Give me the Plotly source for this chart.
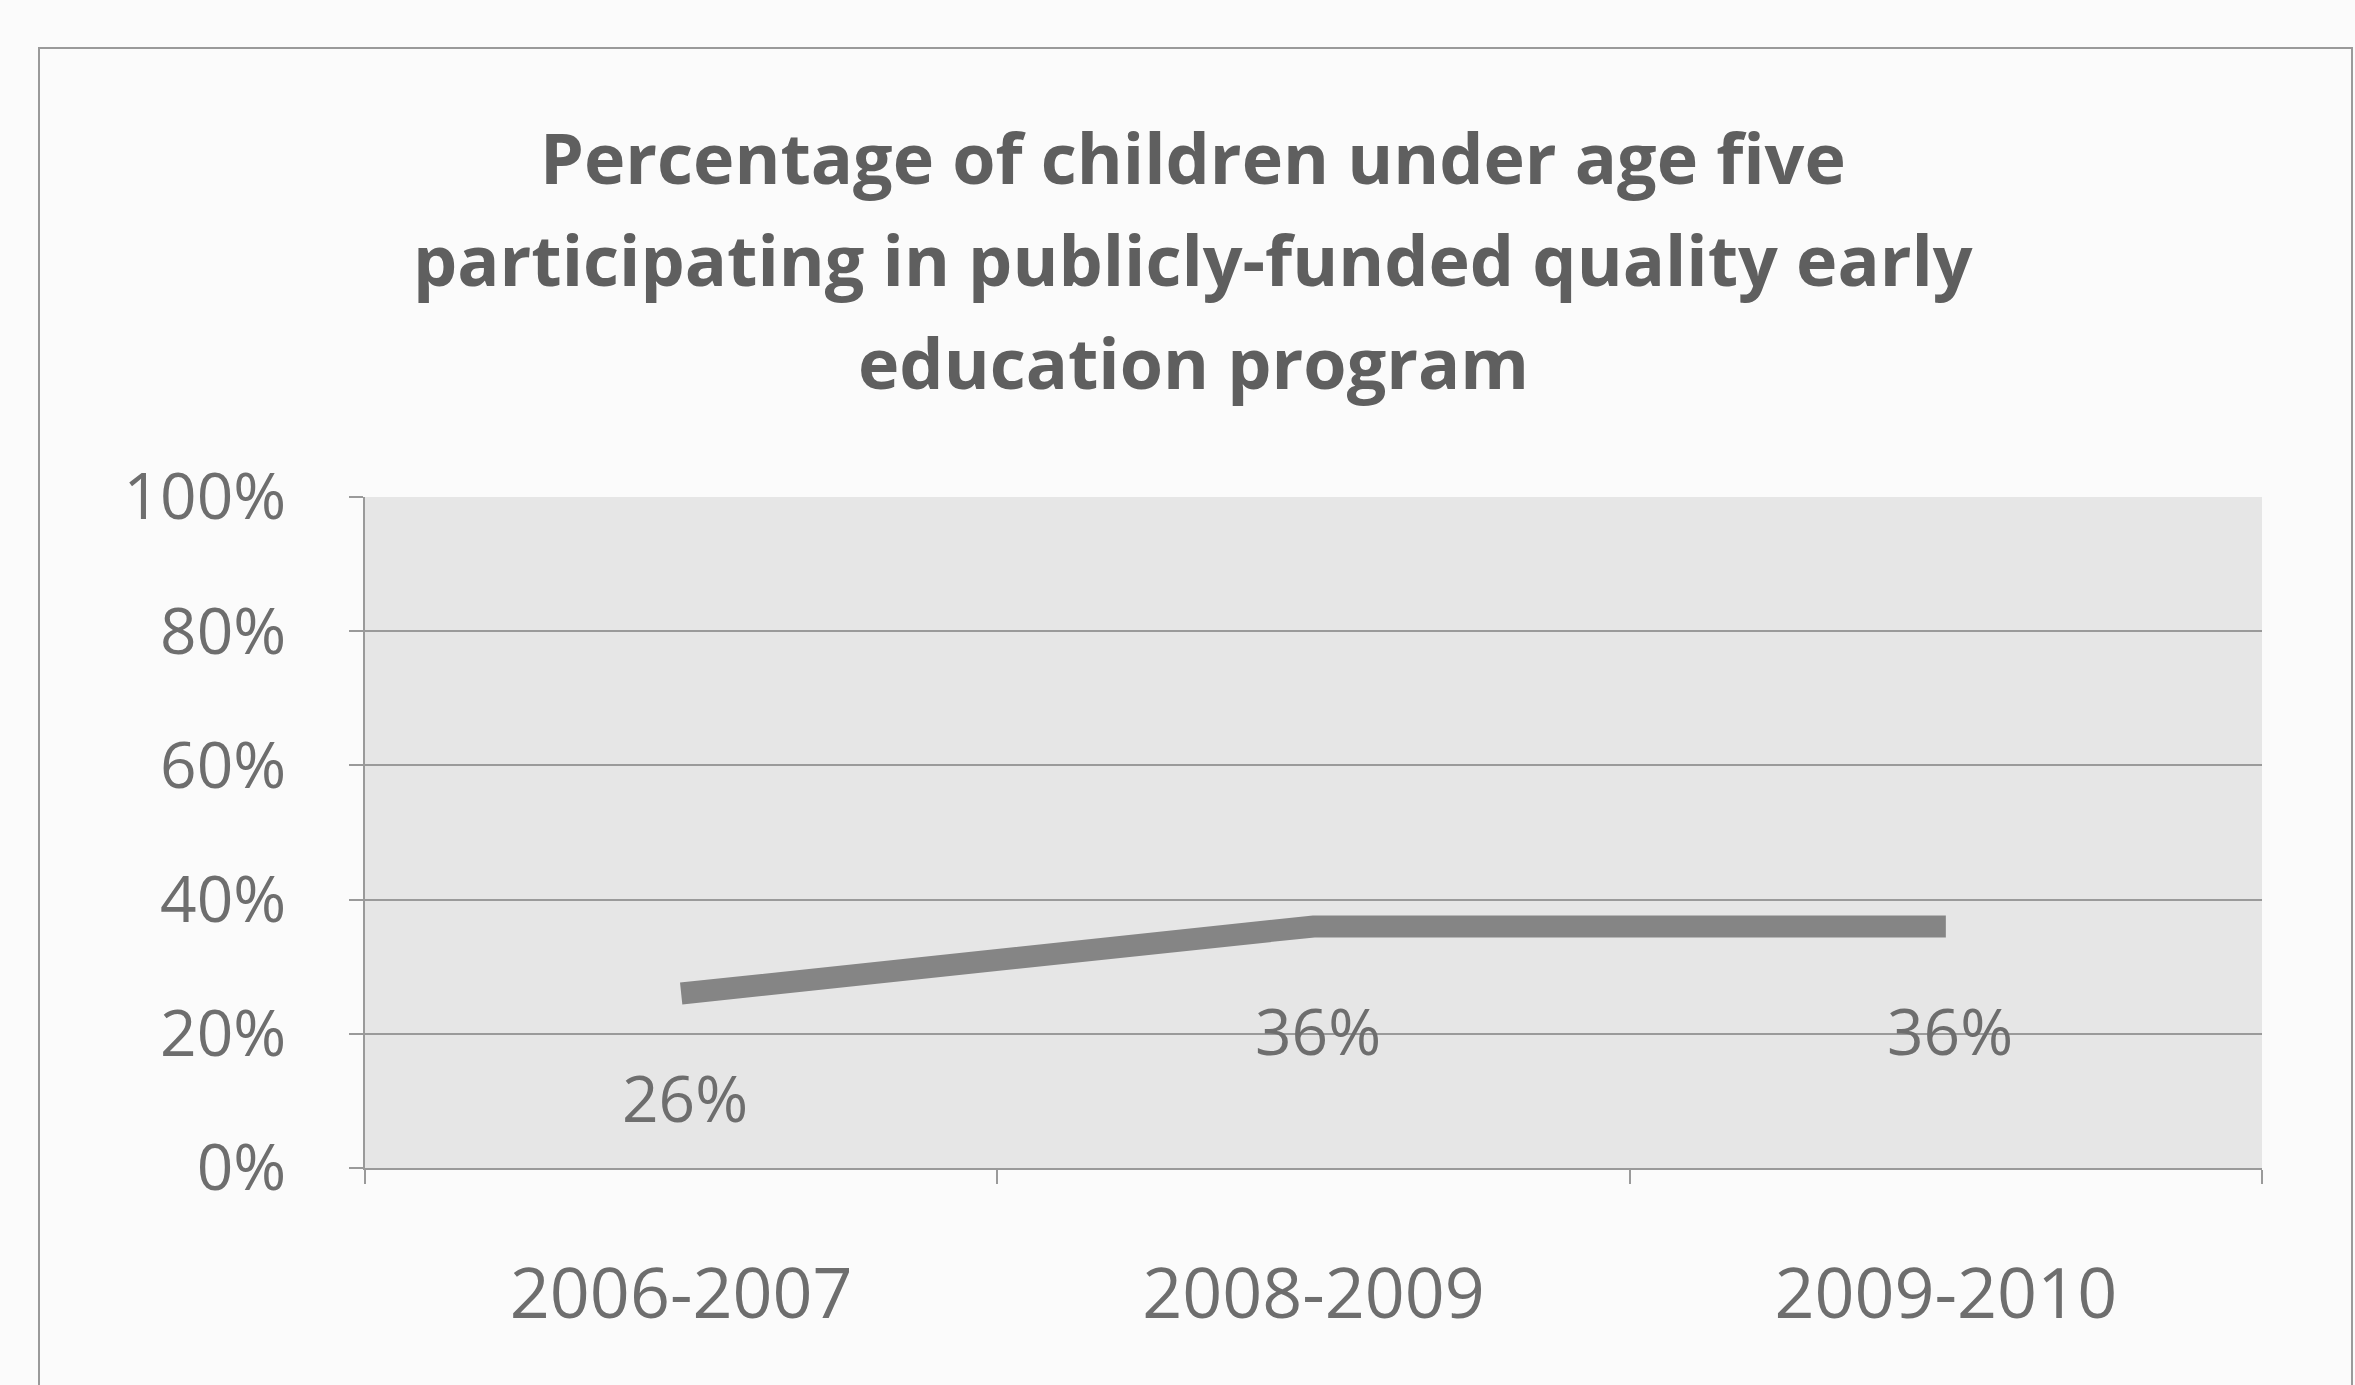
import plotly.graph_objects as go

# Chart data
years = ["2006-2007", "2008-2009", "2009-2010"]
pct_enrolled = [26, 36, 36]
y_ticks = [0, 20, 40, 60, 80, 100]
y_tick_labels = [f"{v}%" for v in y_ticks]

title_lines = [
    "Percentage of children under age five",
    "participating in publicly-funded quality early",
    "education program",
]

FONT = "Open Sans"
TEXT_GREY = "#6e6e6e"
W, H = 2355, 1385

fig = go.Figure()

fig.add_trace(go.Scatter(
    x=years,
    y=pct_enrolled,
    mode="lines",
    line=dict(color="#858585", width=22),
    hoverinfo="skip",
    showlegend=False,
))

# Data labels sit below each point
for yr, v in zip(years, pct_enrolled):
    fig.add_annotation(
        x=yr, y=v, text=f"{v}%", showarrow=False,
        yshift=-104, xshift=4,
        font=dict(family=FONT, size=64, color=TEXT_GREY),
    )

# Title, one line per annotation for wider line spacing
title_centres = [157, 259, 362]
for line, cy in zip(title_lines, title_centres):
    fig.add_annotation(
        xref="paper", yref="paper",
        x=(1193 - 365) / 1897, y=(1168 - cy) / 671,
        xanchor="center", yanchor="middle",
        text=f"<b>{line}</b>", showarrow=False,
        font=dict(family=FONT, size=70, color="#5f5f5f"),
    )

# Outer chart-area frame
fig.add_shape(
    type="rect", xref="paper", yref="paper",
    x0=(39 - 365) / 1897, x1=(2352 - 365) / 1897,
    y0=(1168 - 1400) / 671, y1=(1168 - 48) / 671,
    line=dict(color="#9a9a9a", width=2), fillcolor="rgba(0,0,0,0)",
    layer="below",
)

fig.update_layout(
    width=W, height=H,
    paper_bgcolor="#fbfbfb",
    plot_bgcolor="#e6e6e6",
    margin=dict(l=365, r=93, t=497, b=217),
    xaxis=dict(
        type="category",
        range=[-0.5, 2.5],
        showgrid=False,
        showline=True, linecolor="#9a9a9a", linewidth=2,
        ticks="outside", tickson="boundaries", ticklen=14,
        tickcolor="#9a9a9a", tickwidth=2,
        ticklabelstandoff=64,
        tickfont=dict(family=FONT, size=70, color=TEXT_GREY),
        fixedrange=True,
    ),
    yaxis=dict(
        range=[0, 100],
        tickvals=y_ticks, ticktext=y_tick_labels,
        showgrid=True, gridcolor="#9a9a9a", gridwidth=2,
        showline=True, linecolor="#9a9a9a", linewidth=2,
        ticks="outside", ticklen=14, tickcolor="#9a9a9a", tickwidth=2,
        ticklabelstandoff=50,
        tickfont=dict(family=FONT, size=64, color=TEXT_GREY),
        zeroline=False,
        fixedrange=True,
    ),
)

fig.write_html("out.html")
